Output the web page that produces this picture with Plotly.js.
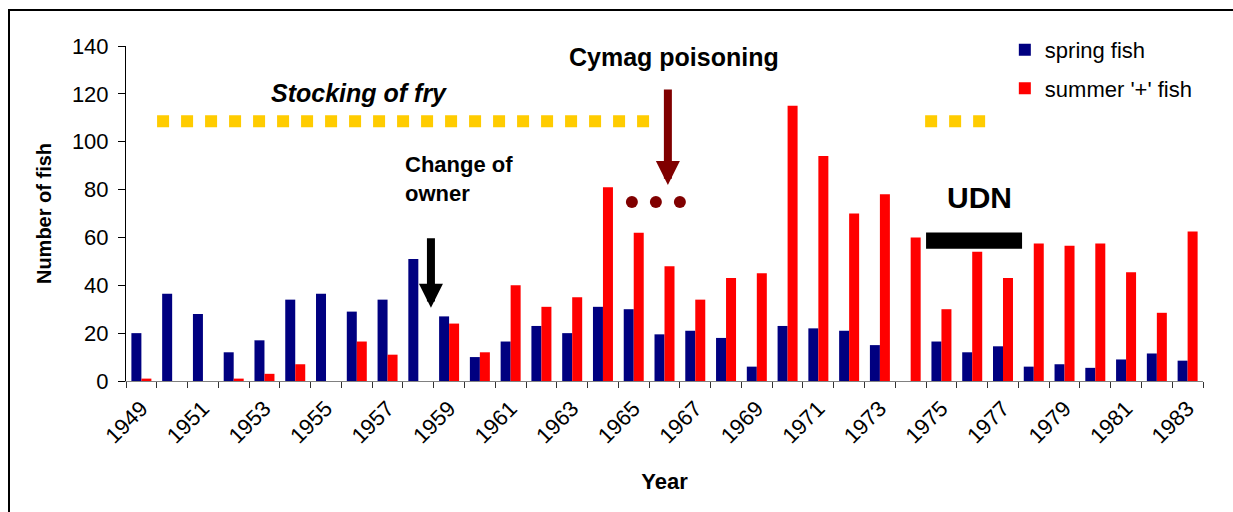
<!DOCTYPE html>
<html>
<head>
<meta charset="utf-8">
<script src="https://cdn.plot.ly/plotly-3.0.1.min.js"></script>
<style>
  html, body { margin: 0; padding: 0; background: #ffffff; overflow: hidden; }
  #chart { position: absolute; left: 0; top: 0; width: 1233px; height: 512px; }
  #frame { position: absolute; left: 8px; top: 9px; width: 1300px; height: 600px;
           border-left: 2px solid #000; border-top: 2px solid #000; pointer-events: none; }
</style>
</head>
<body>
<div id="chart"></div>
<div id="frame"></div>
<script>
// ---- data ----
const years = [1949,1950,1951,1952,1953,1954,1955,1956,1957,1958,1959,1960,1961,1962,1963,1964,1965,1966,1967,1968,1969,1970,1971,1972,1973,1974,1975,1976,1977,1978,1979,1980,1981,1982,1983];
const springFish = [20,36.5,28,12,17,34,36.5,29,34,51,27,10,16.5,23,20,31,30,19.5,21,18,6,23,22,21,15,0,16.5,12,14.5,6,7,5.5,9,11.5,8.5];
const summerFish = [1,0,0,1,3,7,0,16.5,11,0,24,12,40,31,35,81,62,48,34,43,45,115,94,70,78,60,30,54,43,57.5,56.5,57.5,45.5,28.5,62.5];
const tickYears = [1949,1951,1953,1955,1957,1959,1961,1963,1965,1967,1969,1971,1973,1975,1977,1979,1981,1983];
const tickLabels = tickYears.map(String);
const seriesNames = ["spring fish", "summer '+' fish"];

// annotation anchors (year, value)
const stockingPeriods = [[1949.51, 1965.5], [1974.47, 1976.42]];
const stockingLevel = 108.6;
const cymagDotsX = [1964.94, 1965.72, 1966.5];
const cymagDotsY = [74.8, 74.8, 74.8];
const udnSpan = [1974.5, 1977.62];
const udnBand = [55.3, 62.1];

const FONT = "Liberation Sans, Arial, Helvetica, sans-serif";

const traces = [
  { type: 'bar', x: years, y: springFish, name: seriesNames[0], legendgroup: 'a',
    marker: { color: '#000080', line: { width: 0 } }, hoverinfo: 'x+y' },
  { type: 'bar', x: years, y: summerFish, name: seriesNames[1], legendgroup: 'b',
    marker: { color: '#FF0000', line: { width: 0 } }, hoverinfo: 'x+y' },
  { type: 'scatter', mode: 'markers', x: cymagDotsX, y: cymagDotsY, showlegend: false,
    marker: { color: '#800000', size: 12 }, hoverinfo: 'skip' }
];

const shapes = stockingPeriods.map(p => ({
  type: 'line', xref: 'x', yref: 'y', x0: p[0], x1: p[1], y0: stockingLevel, y1: stockingLevel,
  line: { color: '#FFCC00', width: 12, dash: 'dot' }
}));
shapes.push({ type: 'rect', xref: 'x', yref: 'y', x0: udnSpan[0], x1: udnSpan[1], y0: udnBand[0], y1: udnBand[1],
  fillcolor: '#000000', line: { width: 0 } });

const annotations = [
  { xref: 'x', yref: 'y', x: 1956.07, y: 120.3, text: '<b><i>Stocking of fry</i></b>', showarrow: false,
    font: { family: FONT, size: 25, color: '#000' }, xanchor: 'center', yanchor: 'middle' },
  { xref: 'x', yref: 'y', x: 1966.31, y: 135.6, text: '<b>Cymag poisoning</b>', showarrow: false,
    font: { family: FONT, size: 25, color: '#000' }, xanchor: 'center', yanchor: 'middle' },
  { xref: 'x', yref: 'y', x: 1957.5, y: 84.5, text: '<b>Change of<br>owner</b>', showarrow: false, align: 'left',
    font: { family: FONT, size: 22, color: '#000' }, xanchor: 'left', yanchor: 'middle' },
  { xref: 'x', yref: 'y', x: 1976.24, y: 76.5, text: '<b>UDN</b>', showarrow: false,
    font: { family: FONT, size: 30, color: '#000' }, xanchor: 'center', yanchor: 'middle' },
  { xref: 'x', yref: 'y', x: 1966.11, y: 81.9, text: '', showarrow: true, ax: 0, ay: -97,
    arrowhead: 2, arrowsize: 0.6, arrowwidth: 8, arrowcolor: '#800000', standoff: 0 },
  { xref: 'x', yref: 'y', x: 1958.41, y: 30.6, text: '', showarrow: true, ax: 0, ay: -71,
    arrowhead: 2, arrowsize: 0.6, arrowwidth: 8, arrowcolor: '#000000', standoff: 0 }
];

const layout = {
  width: 1233, height: 512, autosize: false,
  margin: { l: 126, r: 30, t: 46, b: 131, pad: 0 },
  paper_bgcolor: 'rgba(0,0,0,0)', plot_bgcolor: '#ffffff',
  font: { family: FONT, size: 22, color: '#000' },
  barmode: 'group', bargap: 0.35, bargroupgap: 0,
  showlegend: true,
  legend: { x: 0.816, xanchor: 'left', y: 1.051, yanchor: 'top', traceorder: 'grouped', tracegroupgap: 7,
            font: { family: FONT, size: 22, color: '#000' }, bgcolor: 'rgba(0,0,0,0)', borderwidth: 0 },
  xaxis: {
    range: [1948.5, 1983.5], tickmode: 'array', tickvals: tickYears, ticktext: tickLabels,
    tickangle: -45, ticks: '', showgrid: false, zeroline: false,
    showline: true, linecolor: '#808080', linewidth: 1, ticklabelstandoff: 5,
    tickfont: { family: FONT, size: 22, color: '#000' },
    minor: { tick0: 1948.5, dtick: 1, ticks: 'outside', ticklen: 6, tickcolor: '#333333', tickwidth: 1, showgrid: false },
    title: { text: '<b>Year</b>', font: { family: FONT, size: 22, color: '#000' }, standoff: 26 },
    fixedrange: true
  },
  yaxis: {
    range: [0, 140], tickmode: 'linear', tick0: 0, dtick: 20,
    ticks: 'outside', ticklen: 7, tickcolor: '#000', tickwidth: 1,
    showline: true, linecolor: '#000', linewidth: 1, showgrid: false, zeroline: false,
    ticklabelstandoff: 5,
    tickfont: { family: FONT, size: 22, color: '#000' },
    title: { text: '<b>Number of fish</b>', font: { family: FONT, size: 20, color: '#000' }, standoff: 14 },
    fixedrange: true
  },
  shapes: shapes,
  annotations: annotations
};

Plotly.newPlot('chart', traces, layout, { displayModeBar: false, staticPlot: true });
</script>
</body>
</html>
